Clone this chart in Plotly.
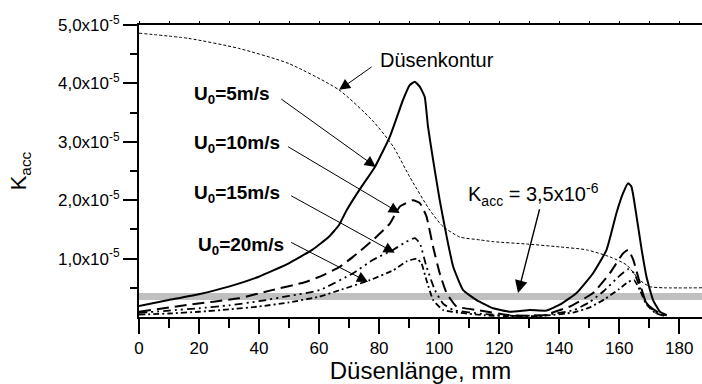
import plotly.graph_objects as go

SCALE = 1e-5

# Düsenkontur (nozzle contour, dotted)
x_contour = [0, 16.6, 33.2, 49.9, 66.6, 77.7, 84.7, 90.2, 96.9, 101.3, 106.9, 113.6, 118, 129.1, 140.2, 149.1, 156.9, 162.5, 166.9, 170.2, 175, 187.6]
y_contour = [4.86, 4.77, 4.60, 4.34, 3.89, 3.37, 2.92, 2.40, 1.83, 1.55, 1.37, 1.32, 1.29, 1.25, 1.20, 1.15, 1.03, 0.89, 0.63, 0.52, 0.50, 0.50]

# U0 = 5 m/s (solid)
x_u5 = [0, 9.9, 19.9, 29.9, 39.9, 49.9, 57.7, 63.2, 66.6, 69.1, 73.6, 78.6, 83.6, 88, 90.2, 91.9, 93.6, 95.2, 96.3, 98, 100.2, 102.5, 104.7, 108, 112.5, 118, 123.6, 130.2, 135.8, 140.2, 145.8, 151.3, 155.8, 159.1, 161.3, 163, 164.1, 165.8, 167.5, 169.1, 171.3, 173.6, 175.8]
y_u5 = [0.19, 0.29, 0.39, 0.52, 0.69, 0.92, 1.15, 1.37, 1.57, 1.82, 2.19, 2.57, 3.09, 3.72, 3.97, 4.03, 3.94, 3.77, 3.26, 2.69, 2.00, 1.38, 0.86, 0.46, 0.29, 0.15, 0.09, 0.12, 0.11, 0.21, 0.41, 0.75, 1.15, 1.78, 2.12, 2.29, 2.23, 1.72, 1.15, 0.69, 0.29, 0.09, 0.03]

# U0 = 10 m/s (dashed)
x_u10 = [0, 16.6, 33.2, 44.3, 55.5, 60.2, 66.9, 71.3, 78, 83.6, 86.9, 91.3, 93.6, 95.8, 98, 100.2, 102.5, 105.8, 112.5, 123.6, 134.6, 143.6, 151.3, 156.9, 161.3, 163, 164.7, 166.9, 169.1, 173.6, 175.8]
y_u10 = [0.09, 0.21, 0.32, 0.46, 0.60, 0.69, 0.86, 1.03, 1.32, 1.60, 1.89, 2.00, 1.95, 1.72, 1.20, 0.75, 0.41, 0.18, 0.12, 0.03, 0.03, 0.18, 0.41, 0.75, 1.09, 1.15, 0.98, 0.58, 0.23, 0.06, 0.03]

# U0 = 15 m/s (dash-dot-dot)
x_u15 = [0, 10, 20, 30, 40, 50, 60.2, 71.3, 78, 84.7, 89.1, 91.9, 93.6, 95.8, 98.6, 101.3, 104.7, 115, 125, 135, 145, 150, 155, 160, 163, 165, 167, 169, 172, 175]
y_u15 = [0.07, 0.11, 0.15, 0.20, 0.27, 0.36, 0.46, 0.75, 0.98, 1.15, 1.29, 1.35, 1.26, 0.86, 0.46, 0.23, 0.12, 0.05, 0.02, 0.03, 0.12, 0.25, 0.45, 0.70, 0.82, 0.75, 0.50, 0.25, 0.08, 0.02]

# U0 = 20 m/s (dash-dot)
x_u20 = [0, 10, 20, 30, 40, 50, 60.2, 66.9, 76.9, 84.7, 89.1, 92.5, 94.1, 95.8, 98, 101.3, 115, 125, 135, 145, 150, 155, 160, 163, 165, 167, 169, 172, 175]
y_u20 = [0.04, 0.06, 0.09, 0.13, 0.18, 0.25, 0.35, 0.46, 0.63, 0.80, 0.95, 1.00, 0.92, 0.63, 0.29, 0.12, 0.03, 0.01, 0.02, 0.08, 0.16, 0.30, 0.48, 0.60, 0.63, 0.45, 0.22, 0.07, 0.02]

kacc_threshold = 3.5e-6
x_range = [0, 187.6]

x_ticks = [0, 20, 40, 60, 80, 100, 120, 140, 160, 180]
x_minor = [10, 30, 50, 70, 90, 110, 130, 150, 170]
y_ticks = [1, 2, 3, 4, 5]
y_ticktext = ["1,0x10<sup>-5</sup>", "2,0x10<sup>-5</sup>", "3,0x10<sup>-5</sup>", "4,0x10<sup>-5</sup>", "5,0x10<sup>-5</sup>"]
y_minor = [0.5, 1.5, 2.5, 3.5, 4.5]


def sc(v):
    return [a * SCALE for a in v]


fig = go.Figure()
fig.add_trace(go.Scatter(x=x_range, y=[kacc_threshold, kacc_threshold], mode="lines",
                         line=dict(color="#c0c0c0", width=7), hoverinfo="skip"))
fig.add_trace(go.Scatter(x=x_contour, y=sc(y_contour), mode="lines",
                         line=dict(color="black", width=1, dash="3px,2px", shape="spline", smoothing=0.6)))
fig.add_trace(go.Scatter(x=x_u20, y=sc(y_u20), mode="lines",
                         line=dict(color="black", width=1.8, dash="6px,3px,2px,3px", shape="spline", smoothing=0.4)))
fig.add_trace(go.Scatter(x=x_u15, y=sc(y_u15), mode="lines",
                         line=dict(color="black", width=1.8, dash="8px,4px,2px,4px,2px,4px", shape="spline", smoothing=0.4)))
fig.add_trace(go.Scatter(x=x_u10, y=sc(y_u10), mode="lines",
                         line=dict(color="black", width=2, dash="12px,6px", shape="spline", smoothing=0.4)))
fig.add_trace(go.Scatter(x=x_u5, y=sc(y_u5), mode="lines",
                         line=dict(color="black", width=2, shape="spline", smoothing=0.4)))
# invisible trace for the top axis
fig.add_trace(go.Scatter(x=x_range, y=[None, None], xaxis="x2", mode="lines", showlegend=False))

FONT = "Liberation Sans, Arial, sans-serif"

labels = [
    ("<b>U<sub>0</sub>=5m/s</b>", 17.6, 3.80, 46.9, 3.75, 78.9, 2.57),
    ("<b>U<sub>0</sub>=10m/s</b>", 17.6, 2.97, 49.2, 2.93, 86.9, 1.78),
    ("<b>U<sub>0</sub>=15m/s</b>", 17.6, 2.10, 50.2, 2.09, 85.2, 1.10),
    ("<b>U<sub>0</sub>=20m/s</b>", 19.0, 1.22, 50.2, 1.29, 76.3, 0.60),
]
ann = []
for txt, tx, ty, x0, y0, x1, y1 in labels:
    ann.append(dict(x=tx, y=ty * SCALE, text=txt, showarrow=False, xanchor="left", yanchor="middle",
                    font=dict(family=FONT, size=19, color="black")))
    ann.append(dict(x=x1, y=y1 * SCALE, ax=x0, ay=y0 * SCALE, axref="x", ayref="y",
                    text="", showarrow=True, arrowhead=2, arrowsize=2.2, arrowwidth=1, arrowcolor="black"))

ann.append(dict(x=79.5, y=4.40 * SCALE, text="Düsenkontur", showarrow=False, xanchor="left", yanchor="middle",
                font=dict(family=FONT, size=20, color="black")))
ann.append(dict(x=66.7, y=3.89 * SCALE, ax=78.0, ay=4.30 * SCALE, axref="x", ayref="y",
                text="", showarrow=True, arrowhead=2, arrowsize=2.2, arrowwidth=1, arrowcolor="black"))
ann.append(dict(x=108.8, y=2.1 * SCALE, text="K<sub>acc</sub> = 3,5x10<sup>-6</sup>", showarrow=False,
                xanchor="left", yanchor="middle", font=dict(family=FONT, size=20, color="black")))
ann.append(dict(x=126.3, y=0.41 * SCALE, ax=133.6, ay=1.87 * SCALE, axref="x", ayref="y",
                text="", showarrow=True, arrowhead=2, arrowsize=1.8, arrowwidth=1.4, arrowcolor="black"))

fig.update_layout(
    width=702, height=384,
    margin=dict(l=139, r=0, t=25, b=67, autoexpand=False),
    paper_bgcolor="white", plot_bgcolor="white",
    showlegend=False,
    font=dict(family=FONT, color="black"),
    annotations=ann,
    xaxis=dict(range=x_range, tickmode="array", tickvals=x_ticks, automargin=False,
               ticks="outside", ticklen=15, tickwidth=2, tickcolor="black",
               showline=True, linecolor="black", linewidth=2, mirror=True,
               showgrid=False, zeroline=False,
               tickfont=dict(family=FONT, size=17, color="black"),
               minor=dict(tickvals=x_minor, ticks="outside", ticklen=9, tickwidth=2, tickcolor="black", showgrid=False),
               title=dict(text="Düsenlänge, mm", font=dict(family=FONT, size=24, color="black"), standoff=2)),
    xaxis2=dict(range=x_range, overlaying="x", side="top", tickmode="linear", tick0=0, dtick=10, automargin=False,
                ticks="outside", ticklen=3, tickwidth=1, tickcolor="black",
                showticklabels=False, showgrid=False, zeroline=False, showline=False),
    yaxis=dict(range=[0, 5e-5], tickmode="array", tickvals=sc(y_ticks), ticktext=y_ticktext, automargin=False,
               ticks="outside", ticklen=14, tickwidth=2, tickcolor="black",
               showline=True, linecolor="black", linewidth=2,
               showgrid=False, zeroline=False,
               tickfont=dict(family=FONT, size=17, color="black"),
               minor=dict(tickvals=sc(y_minor), ticks="outside", ticklen=7, tickwidth=2, tickcolor="black", showgrid=False),
               title=dict(text="K<sub>acc</sub>", font=dict(family=FONT, size=22, color="black"), standoff=25)),
)

fig.write_html("out.html", config={"displayModeBar": False},
               post_script="document.body.style.margin='0';document.body.style.overflow='hidden';")
